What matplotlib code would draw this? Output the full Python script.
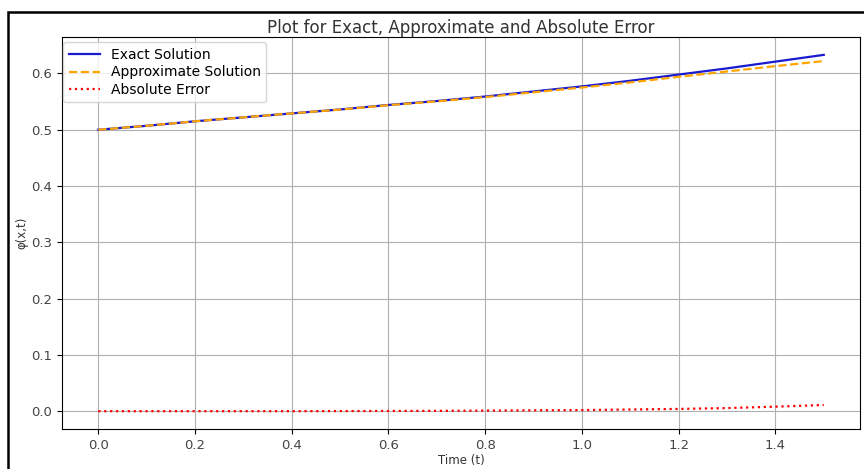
import numpy as np
import matplotlib.pyplot as plt
from matplotlib.patches import Rectangle

# values
t = [0.0, 0.1, 0.2, 0.3, 0.4, 0.5, 0.6, 0.7, 0.8, 0.9, 1.0, 1.1, 1.2, 1.3, 1.4, 1.5]
exact = [0.500, 0.507, 0.515, 0.522, 0.529, 0.536, 0.544, 0.551, 0.559, 0.568,
         0.577, 0.587, 0.598, 0.609, 0.621, 0.633]
approx = [0.500, 0.507, 0.515, 0.522, 0.529, 0.5358, 0.5436, 0.5504, 0.558, 0.5665,
          0.575, 0.584, 0.594, 0.6035, 0.613, 0.622]
abs_error = [0.0, 0.0, 0.0, 0.0, 0.0, 0.0002, 0.0004, 0.0006, 0.001, 0.0015,
             0.002, 0.003, 0.004, 0.0055, 0.008, 0.011]

fig = plt.figure(figsize=(8.64, 4.69), dpi=100)
ax = fig.add_axes([0.0718, 0.0853, 0.9236, 0.8357])

ax.plot(t, exact, color="#1a1ad0", lw=1.6, label="Exact Solution")
ax.plot(t, approx, color="orange", lw=1.6, ls="--", label="Approximate Solution")
ax.plot(t, abs_error, color="red", lw=1.6, ls=":", label="Absolute Error")

ax.set_title("Plot for Exact, Approximate and Absolute Error", fontsize=12, pad=3,
             color="#333333")
ax.set_xlabel("Time (t)", fontsize=8.5, labelpad=2, color="#333333")
ax.set_ylabel("φ(x,t)", fontsize=8.5, labelpad=2, color="#333333")
ax.tick_params(labelsize=9.5, labelcolor="#444444")
ax.grid(True)
ax.legend(loc="upper left", bbox_to_anchor=(0.0, 0.99), borderaxespad=0.1,
          fontsize=10, labelspacing=0.25, handlelength=2.2)

# outer frame seen around the screenshot
fig.patches.append(Rectangle((8 / 864, -0.01), 1.0, (469 - 12) / 469 + 0.01,
                             transform=fig.transFigure, fill=False,
                             edgecolor="black", lw=1.8))

plt.savefig("out.png", dpi=100)
